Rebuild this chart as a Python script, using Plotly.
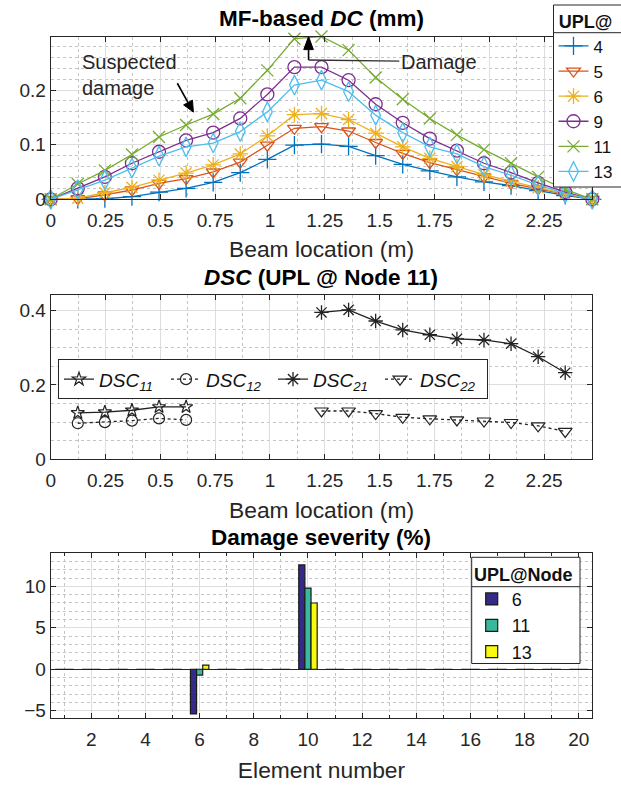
import plotly.graph_objects as go

# ---------------- data ----------------
beam_x = [0, 0.1235, 0.247, 0.3705, 0.494, 0.6175, 0.741, 0.8645, 0.988, 1.1115, 1.235,
          1.3585, 1.482, 1.6055, 1.729, 1.8525, 1.976, 2.0995, 2.223, 2.3465, 2.47]
beam_ticks = [0, 0.25, 0.5, 0.75, 1, 1.25, 1.5, 1.75, 2, 2.25]
beam_ticklabels = ["0", "0.25", "0.5", "0.75", "1", "1.25", "1.5", "1.75", "2", "2.25"]

dc_upl4 = [0, 0.000, 0.001, 0.005, 0.013, 0.020, 0.031, 0.049, 0.073, 0.099, 0.101,
           0.097, 0.080, 0.064, 0.052, 0.041, 0.032, 0.025, 0.016, 0.007, 0]
dc_upl5 = [0, 0.001, 0.008, 0.017, 0.029, 0.038, 0.050, 0.068, 0.099, 0.130, 0.133,
           0.125, 0.104, 0.084, 0.067, 0.054, 0.041, 0.029, 0.019, 0.009, 0]
dc_upl6 = [0, 0.002, 0.012, 0.022, 0.035, 0.048, 0.063, 0.083, 0.116, 0.155, 0.157,
           0.146, 0.121, 0.096, 0.075, 0.060, 0.045, 0.033, 0.021, 0.010, 0]
dc_upl9 = [0, 0.020, 0.041, 0.066, 0.087, 0.108, 0.122, 0.148, 0.192, 0.242, 0.242,
           0.218, 0.174, 0.140, 0.111, 0.089, 0.066, 0.049, 0.030, 0.013, 0]
dc_upl11 = [0, 0.028, 0.053, 0.082, 0.114, 0.136, 0.156, 0.185, 0.236, 0.294, 0.298,
            0.273, 0.223, 0.183, 0.148, 0.118, 0.091, 0.066, 0.041, 0.018, 0]
dc_upl13 = [0, 0.018, 0.035, 0.057, 0.079, 0.096, 0.103, 0.124, 0.160, 0.209, 0.218,
            0.197, 0.154, 0.122, 0.096, 0.083, 0.060, 0.044, 0.026, 0.011, 0]
dc_names = ["4", "5", "6", "9", "11", "13"]

dsc_left_x = [0.1235, 0.247, 0.3705, 0.494, 0.6175]
dsc11 = [0.125, 0.127, 0.132, 0.141, 0.141]
dsc12 = [0.097, 0.100, 0.104, 0.110, 0.106]
dsc_right_x = [1.235, 1.3585, 1.482, 1.6055, 1.729, 1.8525, 1.976, 2.0995, 2.223, 2.3465]
dsc21 = [0.395, 0.402, 0.372, 0.348, 0.335, 0.324, 0.321, 0.311, 0.276, 0.233]
dsc22 = [0.130, 0.130, 0.123, 0.113, 0.109, 0.106, 0.103, 0.099, 0.090, 0.075]

elements = [1, 2, 3, 4, 5, 6, 7, 8, 9, 10, 11, 12, 13, 14, 15, 16, 17, 18, 19, 20]
sev_upl6 = [0, 0, 0, 0, 0, -5.4, 0, 0, 0, 12.6, 0, 0, 0, 0, 0, 0, 0, 0, 0, 0]
sev_upl11 = [0, 0, 0, 0, 0, -0.7, 0, 0, 0, 9.8, 0, 0, 0, 0, 0, 0, 0, 0, 0, 0]
sev_upl13 = [0, 0, 0, 0, 0, 0.5, 0, 0, 0, 8.0, 0, 0, 0, 0, 0, 0, 0, 0, 0, 0]
sev_names = ["6", "11", "13"]
elem_ticks = [2, 4, 6, 8, 10, 12, 14, 16, 18, 20]

# ---------------- layout helpers ----------------
W, H = 621, 787
FONT = "Liberation Sans, Arial, Helvetica, sans-serif"
AX = "#262626"


def px_x(p):
    return p / W


def px_y(p):
    return 1 - p / H


fig = go.Figure()

# top panel
dc_series = [dc_upl4, dc_upl5, dc_upl6, dc_upl9, dc_upl11, dc_upl13]
dc_colors = ["#0072BD", "#D95319", "#EDB120", "#7E2F8E", "#77AC30", "#4DBEEE"]
dc_symbols = ["cross-thin-open", "triangle-down-open", "asterisk-open", "circle-open",
              "x-thin-open", "diamond-tall-open"]
dc_sizes = [13, 12, 13, 13, 12, 14]
for vals, name, col, sym, sz in zip(dc_series, dc_names, dc_colors, dc_symbols, dc_sizes):
    fig.add_trace(go.Scatter(
        x=beam_x, y=vals, name=name, mode="lines+markers",
        line=dict(color=col, width=1.3),
        marker=dict(symbol=sym, size=sz, color=col, line=dict(color=col, width=1.3)),
        cliponaxis=False, xaxis="x", yaxis="y", legend="legend"))

# middle panel
mid_col = "#222222"
fig.add_trace(go.Scatter(x=dsc_left_x, y=dsc11, name="<i>DSC<sub>11</sub></i>", mode="lines+markers",
                         line=dict(color=mid_col, width=1.3),
                         marker=dict(symbol="star-open", size=10, color=mid_col, line=dict(width=1.2)),
                         cliponaxis=False, xaxis="x2", yaxis="y2", legend="legend2"))
fig.add_trace(go.Scatter(x=dsc_left_x, y=dsc12, name="<i>DSC<sub>12</sub></i>", mode="lines+markers",
                         line=dict(color=mid_col, width=1.3, dash="dot"),
                         marker=dict(symbol="circle-open", size=11, color=mid_col, line=dict(width=1.2)),
                         cliponaxis=False, xaxis="x2", yaxis="y2", legend="legend2"))
fig.add_trace(go.Scatter(x=dsc_right_x, y=dsc21, name="<i>DSC<sub>21</sub></i>", mode="lines+markers",
                         line=dict(color=mid_col, width=1.3),
                         marker=dict(symbol="asterisk-open", size=12, color=mid_col, line=dict(width=1.3)),
                         cliponaxis=False, xaxis="x2", yaxis="y2", legend="legend2"))
fig.add_trace(go.Scatter(x=dsc_right_x, y=dsc22, name="<i>DSC<sub>22</sub></i>", mode="lines+markers",
                         line=dict(color=mid_col, width=1.3, dash="dot"),
                         marker=dict(symbol="triangle-down-open", size=12, color=mid_col, line=dict(width=1.2)),
                         cliponaxis=False, xaxis="x2", yaxis="y2", legend="legend2"))

# bottom panel
bar_colors = ["#352A87", "#38B89C", "#F9FB0E"]
for vals, name, col in zip([sev_upl6, sev_upl11, sev_upl13], sev_names, bar_colors):
    fig.add_trace(go.Bar(x=elements, y=vals, name=name,
                         marker=dict(color=col, line=dict(color="#1a1a1a", width=1.2)),
                         xaxis="x3", yaxis="y3", legend="legend3"))

# ---------------- axes ----------------
x_dom = [px_x(50.7), px_x(592.3)]
tickfont = dict(family=FONT, size=19, color=AX)
titlefont = dict(family=FONT, size=22.8, color=AX)


def axis_common(**kw):
    d = dict(showline=True, linecolor=AX, linewidth=1, mirror="ticks", ticks="inside",
             ticklen=5, tickcolor=AX, tickfont=tickfont, showgrid=True, gridcolor="#dedede",
             gridwidth=1, zeroline=False)
    d.update(kw)
    return d


fig.update_layout(
    xaxis=axis_common(domain=x_dom, anchor="y", range=[0, 2.47], tickvals=beam_ticks,
                      ticktext=beam_ticklabels, ticklabelstandoff=4,
                      minor=dict(dtick=0.125, tick0=0, showgrid=True, griddash="dot",
                                 gridcolor="#c4c4c4", ticks=""),
                      title=dict(text="Beam location (m)", font=titlefont, standoff=10)),
    yaxis=axis_common(domain=[px_y(199.3), px_y(36.5)], anchor="x", range=[0, 0.298],
                      tickvals=[0, 0.1, 0.2], ticktext=["0", "0.1", "0.2"],
                      minor=dict(dtick=0.02, tick0=0, showgrid=True, griddash="dot",
                                 gridcolor="#c4c4c4", ticks="")),
    xaxis2=axis_common(domain=x_dom, anchor="y2", range=[0, 2.47], tickvals=beam_ticks,
                       ticktext=beam_ticklabels, ticklabelstandoff=4,
                       minor=dict(dtick=0.125, tick0=0, showgrid=True, griddash="dot",
                                  gridcolor="#c4c4c4", ticks=""),
                       title=dict(text="Beam location (m)", font=titlefont, standoff=11)),
    yaxis2=axis_common(domain=[px_y(459.3), px_y(295)], anchor="x2", range=[0, 0.442],
                       tickvals=[0, 0.2, 0.4], ticktext=["0", "0.2", "0.4"],
                       minor=dict(dtick=0.05, tick0=0, showgrid=True, griddash="dot",
                                  gridcolor="#c4c4c4", ticks="")),
    xaxis3=axis_common(domain=x_dom, anchor="y3", range=[0.5, 20.5], tickvals=elem_ticks,
                       ticklabelstandoff=4,
                       minor=dict(dtick=1, tick0=0, showgrid=True, griddash="dot",
                                  gridcolor="#c4c4c4", ticks="inside", ticklen=3, tickcolor=AX),
                       title=dict(text="Element number", font=titlefont, standoff=13)),
    yaxis3=axis_common(domain=[px_y(717.7), px_y(553.3)], anchor="x3", range=[-5.85, 14],
                       tickvals=[-5, 0, 5, 10], zeroline=True, zerolinecolor=AX, zerolinewidth=1.2,
                       minor=dict(dtick=1, tick0=0, showgrid=True, griddash="dot",
                                  gridcolor="#c4c4c4", ticks="")),
)

# ---------------- legends ----------------
# legend boxes (white background, frame and title separator) are drawn as shapes so the
# separator line under the legend title stays visible; the legends themselves are transparent
fig.update_layout(
    legend=dict(x=px_x(553.5), y=px_y(5), xanchor="left", yanchor="top",
                bgcolor="rgba(0,0,0,0)", borderwidth=0,
                font=dict(family=FONT, size=17, color="#111"),
                title=dict(text="<b>UPL@</b>", side="top center",
                           font=dict(family=FONT, size=18, color="#111")),
                tracegroupgap=0, itemwidth=30),
    legend2=dict(x=px_x(58), y=px_y(359.3), xanchor="left", yanchor="top", orientation="h",
                 bgcolor="white", bordercolor=AX, borderwidth=1,
                 font=dict(family=FONT, size=19, color="#111"), entrywidth=62),
    legend3=dict(x=px_x(471.7), y=px_y(557.3), xanchor="left", yanchor="top",
                 bgcolor="rgba(0,0,0,0)", borderwidth=0,
                 font=dict(family=FONT, size=18, color="#111"),
                 title=dict(text="<b>UPL@Node</b>", side="top center",
                            font=dict(family=FONT, size=18, color="#111")),
                 tracegroupgap=0),
)

# ---------------- titles & annotations ----------------
title_font = dict(family=FONT, size=22.5, color="black")
ann_font = dict(family=FONT, size=20, color="#262626")
annotations = [
    dict(text="<b>MF-based <i>DC</i> (mm)</b>", x=0.5177, y=px_y(18), xref="paper", yref="paper",
         showarrow=False, font=title_font, xanchor="center", yanchor="middle"),
    dict(text="<b><i>DSC</i> (UPL @ Node 11)</b>", x=0.5177, y=px_y(277), xref="paper", yref="paper",
         showarrow=False, font=title_font, xanchor="center", yanchor="middle"),
    dict(text="<b>Damage severity (%)</b>", x=0.5177, y=px_y(537), xref="paper", yref="paper",
         showarrow=False, font=title_font, xanchor="center", yanchor="middle"),
    dict(text="Suspected<br>damage", x=0.134, y=0.227, xref="x", yref="y", showarrow=False,
         xanchor="left", yanchor="middle", align="left", font=ann_font),
    dict(text="Damage", x=1.176, y=0.255, ax=1.77, ay=0.252,
         xref="x", yref="y", axref="x", ayref="y", font=ann_font,
         showarrow=True, arrowhead=0, arrowwidth=1.3, arrowcolor="#333"),
]

shapes = [
    # "Suspected damage" pointer
    dict(type="line", xref="x", yref="y", x0=0.5775, y0=0.2124, x1=0.6264, y1=0.1771,
         line=dict(color="black", width=1.6)),
    dict(type="path", xref="x", yref="y",
         path="M 0.6508,0.1596 L 0.6063,0.1728 L 0.6465,0.1815 Z",
         fillcolor="black", line=dict(color="black", width=1)),
    # vertical part of the "Damage" pointer with its head
    dict(type="line", xref="x", yref="y", x0=1.176, y0=0.255, x1=1.176, y1=0.276,
         line=dict(color="black", width=1.6)),
    dict(type="path", xref="x", yref="y",
         path="M 1.154,0.274 L 1.176,0.298 L 1.198,0.274 Z",
         fillcolor="black", line=dict(color="black", width=1)),
    # legend boxes and title separators
    dict(type="rect", xref="paper", yref="paper", x0=px_x(553.5), x1=px_x(630), y0=px_y(187),
         y1=px_y(5), fillcolor="white", line=dict(color=AX, width=1), layer="above"),
    dict(type="line", xref="paper", yref="paper", x0=px_x(553.5), x1=1.0, y0=px_y(32.7), y1=px_y(32.7),
         line=dict(color=AX, width=1), layer="above"),
    dict(type="rect", xref="paper", yref="paper", x0=px_x(471.7), x1=px_x(580), y0=px_y(663.5),
         y1=px_y(557.3), fillcolor="white", line=dict(color=AX, width=1), layer="above"),
    dict(type="line", xref="paper", yref="paper", x0=px_x(471.7), x1=px_x(580), y0=px_y(586.7),
         y1=px_y(586.7), line=dict(color=AX, width=1), layer="above"),
]

fig.update_layout(
    width=W, height=H, autosize=False,
    margin=dict(l=0, r=0, t=0, b=0, autoexpand=False),
    paper_bgcolor="white", plot_bgcolor="white",
    barmode="group", bargap=0.32, bargroupgap=0,
    annotations=annotations, shapes=shapes,
    font=dict(family=FONT, color=AX),
)

fig.write_html("out.html", config={"displayModeBar": False},
               post_script="document.body.style.margin='0';document.body.style.padding='0';"
                           "document.body.style.overflow='hidden';")
